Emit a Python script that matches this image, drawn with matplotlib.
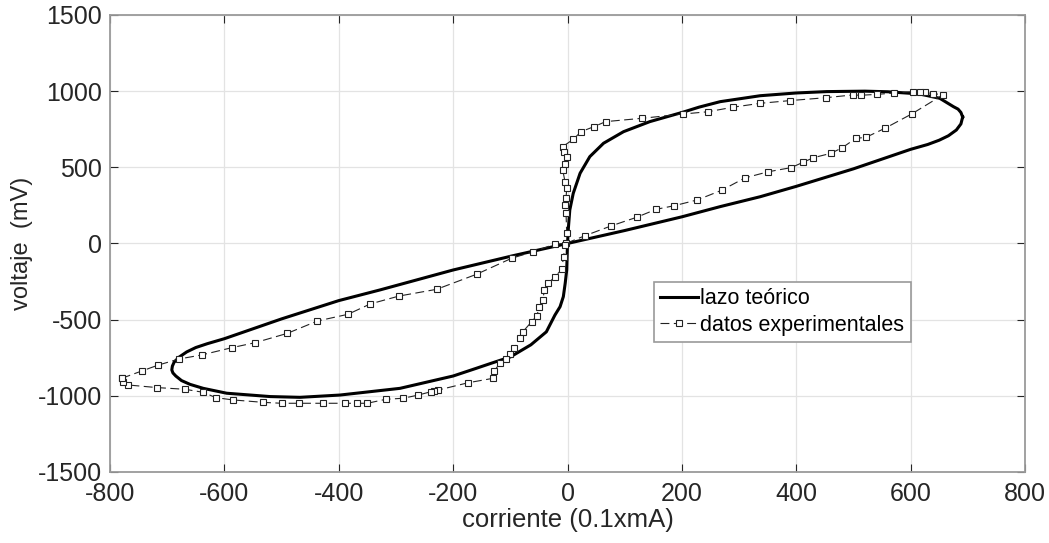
import matplotlib
matplotlib.use("Agg")
import matplotlib.pyplot as plt

plt.rcParams["font.family"] = ["Liberation Sans", "DejaVu Sans"]
plt.rcParams["axes.unicode_minus"] = False

# Theoretical hysteresis loop (closed path), current in 0.1 mA, voltage in mV
theo_i = [691, 688, 683, 675, 651, 620, 599, 560, 520, 453, 400, 337, 267, 230,
          202, 144, 98, 63, 39, 22, 10, 4, 1.5, 0, -1.4, -4, -7.3, -13, -22, -37,
          -64, -100, -130, -160, -200, -293, -398, -468, -520, -596, -637, -660,
          -675, -685, -690, -692, -691, -688, -680, -666, -650, -630, -600, -500,
          -400, -328, -200, -95, 0, 100, 200, 267, 337, 400, 500, 600, 630, 650,
          666, 680, 688, 691]
theo_v = [830, 860, 882, 898, 953, 978, 986, 996, 1000, 997, 988, 970, 931, 895,
          862, 800, 734, 658, 570, 461, 329, 220, 100, 0, -174, -260, -349, -415,
          -470, -580, -665, -745, -782, -820, -870, -951, -995, -1010, -1005, -983,
          -951, -925, -900, -870, -850, -830, -805, -780, -748, -712, -683, -658,
          -625, -495, -375, -305, -174, -80, 0, 85, 175, 242, 307, 375, 490, 618,
          650, 678, 707, 745, 785, 830]

# Measured loop
exp_i = [-779.5, -744.5, -715.5, -679, -640, -587, -546, -490, -437.5, -384,
         -345, -294.6, -229, -159, -97.6, -60, -22, -2.6, 30.6, 76, 121, 154.7,
         186.8, 227, 270, 310, 350, 391, 412, 430, 460.7, 480.6, 504, 522, 555,
         601.8, 657, 639.6, 626, 616.4, 604.7, 571, 541.7, 512.6, 498.6, 451.5,
         389, 336.6, 290, 246, 202.5, 130.8, 66.8, 46.3, 23.6, 10.2, -8.4, -6.1,
         -1.4, -4.4, -8.4, -4.4, -1.4, -2.6, -4.4, -2.6, -1.4, -4, -7, -10, -22,
         -33.5, -40.6, -43, -49, -54, -62.6, -78, -83, -93, -100, -107.5, -118,
         -128, -130, -173.5, -226, -233, -238.7, -261, -287, -318, -350, -367.5,
         -389, -428, -469, -500, -532, -585, -615, -637, -669, -718, -768, -777,
         -779.5]
exp_v = [-885, -837, -798, -758, -732, -684, -651, -590, -509, -465, -397, -345,
         -301, -202, -97, -54, -5, 1, 51, 115, 172, 224, 248, 286, 350, 430, 470,
         498, 533, 563, 592, 629, 690, 697, 756, 850, 977, 983, 992, 992, 997, 988,
         979, 973, 975, 957, 938, 920, 895, 865, 850, 822, 800, 767, 734, 684, 636,
         603, 566, 522, 483, 406, 362, 297, 253, 198, 67, -10, -87, -170, -218,
         -261, -305, -371, -419, -476, -513, -579, -622, -688, -727, -760, -787,
         -835, -885, -914, -962, -968, -973, -995, -1016, -1023, -1049, -1049,
         -1049, -1049, -1049, -1049, -1043, -1027, -1012, -977, -957, -946, -929,
         -907, -885]

x_ticks = [-800, -600, -400, -200, 0, 200, 400, 600, 800]
y_ticks = [-1500, -1000, -500, 0, 500, 1000, 1500]

fig = plt.figure(figsize=(10.49, 5.43), dpi=100)
ax = fig.add_axes([0.1049, 0.1308, 0.8722, 0.8416])

ax.plot(theo_i, theo_v, color="black", lw=2.2, label="lazo teórico", zorder=3,
        solid_joinstyle="round")
ax.plot(exp_i, exp_v, color="#222222", lw=0.8, ls=(0, (8, 4)), marker="s",
        markersize=5, markerfacecolor="white", markeredgecolor="#222222",
        markeredgewidth=0.8, label="datos experimentales", zorder=4)

ax.set_xlim(-800, 800)
ax.set_ylim(-1500, 1500)
ax.set_xticks(x_ticks)
ax.set_yticks(y_ticks)
ax.grid(True, color="#e3e3e3", lw=0.9)
ax.set_axisbelow(True)
ax.tick_params(direction="in", length=6, width=0.8, color="#262626",
               labelsize=18, top=True, right=True, labelcolor="#262626")
ax.tick_params(axis="x", pad=7)
ax.tick_params(axis="y", pad=6)
for s in ax.spines.values():
    s.set_color("#9a9a9a")
    s.set_linewidth(1.3)

ax.set_xlabel("corriente (0.1xmA)", fontsize=18.5, color="#262626", labelpad=2)
ax.set_ylabel("voltaje  (mV)", fontsize=17, color="#262626", labelpad=3)

leg = ax.legend(loc="upper left", bbox_to_anchor=(0.5945, 0.4164),
                borderaxespad=0, fontsize=15.5, handlelength=1.75,
                handletextpad=0.1, borderpad=0.3, labelspacing=0.25,
                fancybox=False, framealpha=1)
leg.get_frame().set_edgecolor("#9a9a9a")
leg.get_frame().set_linewidth(1.2)

fig.savefig("out.png", dpi=100)
